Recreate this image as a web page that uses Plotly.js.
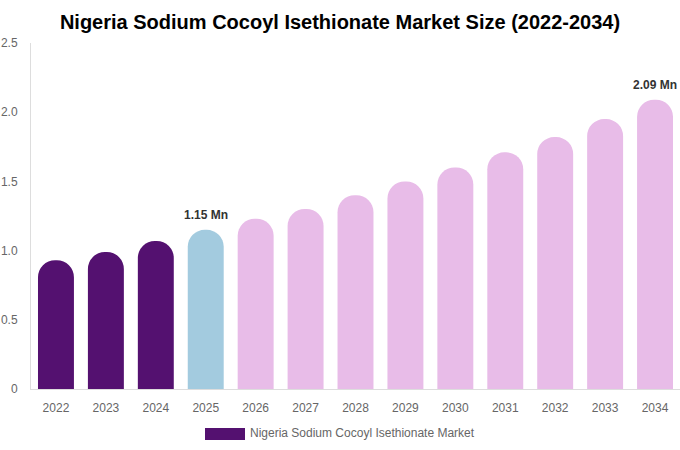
<!DOCTYPE html>
<html>
<head>
<meta charset="utf-8">
<script src="https://cdn.plot.ly/plotly-3.0.1.min.js"></script>
<style>html,body{margin:0;padding:0;background:#fff;}#chart{width:680px;height:450px;}</style>
</head>
<body>
<div id="chart"></div>
<script>
const years = ["2022","2023","2024","2025","2026","2027","2028","2029","2030","2031","2032","2033","2034"];
const values = [0.93, 0.99, 1.07, 1.15, 1.23, 1.30, 1.40, 1.50, 1.60, 1.71, 1.82, 1.95, 2.09];
const barColors = ["#541170","#541170","#541170","#A3CBDF","#E8BCE8","#E8BCE8","#E8BCE8","#E8BCE8","#E8BCE8","#E8BCE8","#E8BCE8","#E8BCE8","#E8BCE8"];
const labelShown = [false,false,false,true,false,false,false,false,false,false,false,false,true];
const yTickVals = [0, 0.5, 1.0, 1.5, 2.0, 2.5];
const yTickText = ["0","0.5","1.0","1.5","2.0","2.5"];
const seriesName = "Nigeria Sodium Cocoyl Isethionate Market";
const chartTitle = "Nigeria Sodium Cocoyl Isethionate Market Size (2022-2034)";

const trace = {
  type: "bar",
  x: years,
  y: values,
  name: seriesName,
  marker: {color: barColors, cornerradius: "50%"},
  hoverinfo: "x+y",
  showlegend: false
};

const valueLabels = [];
values.forEach((v, i) => {
  if (labelShown[i]) {
    valueLabels.push({
      x: i, y: v, xref: "x", yref: "y",
      text: "<b>" + v.toFixed(2) + " Mn</b>",
      showarrow: false, yanchor: "bottom", yshift: 6,
      font: {family: "Liberation Sans, Arial, sans-serif", size: 12, color: "#333333"}
    });
  }
});

const layout = {
  width: 680,
  height: 450,
  margin: {l: 31, r: 0, t: 43, b: 61},
  paper_bgcolor: "#ffffff",
  plot_bgcolor: "#ffffff",
  bargap: 0.28,
  font: {family: "Liberation Sans, Arial, sans-serif", size: 12, color: "#666666"},
  title: {
    text: "<b>" + chartTitle + "</b>",
    x: 0.5, xanchor: "center",
    y: 0.951, yanchor: "middle",
    font: {family: "Liberation Sans, Arial, sans-serif", size: 20, color: "#000000"}
  },
  xaxis: {
    type: "category",
    range: [-0.5, years.length - 0.5],
    showline: true, linecolor: "#dddddd", linewidth: 1,
    showgrid: false, ticks: "", zeroline: false,
    ticklabelstandoff: 8,
    tickfont: {size: 12, color: "#666666"}
  },
  yaxis: {
    range: [0, 2.5],
    showline: true, linecolor: "#dddddd", linewidth: 1,
    showgrid: false, zeroline: false, ticks: "",
    tickvals: yTickVals, ticktext: yTickText,
    ticklabelstandoff: 10,
    tickfont: {size: 12, color: "#666666"}
  },
  shapes: [{
    type: "rect", xref: "paper", yref: "paper",
    x0: (205 - 31) / 649, x1: (245 - 31) / 649,
    y0: (450 - 61 - 440) / 346, y1: (450 - 61 - 428) / 346,
    fillcolor: "#541170", line: {width: 0}
  }],
  annotations: valueLabels.concat([{
    xref: "paper", yref: "paper",
    x: (248 - 31) / 649, xanchor: "left",
    y: (450 - 61 - 433) / 346, yanchor: "middle",
    text: seriesName, showarrow: false,
    font: {size: 12, color: "#666666"}
  }])
};

Plotly.newPlot("chart", [trace], layout, {displayModeBar: false, staticPlot: true});
</script>
</body>
</html>
